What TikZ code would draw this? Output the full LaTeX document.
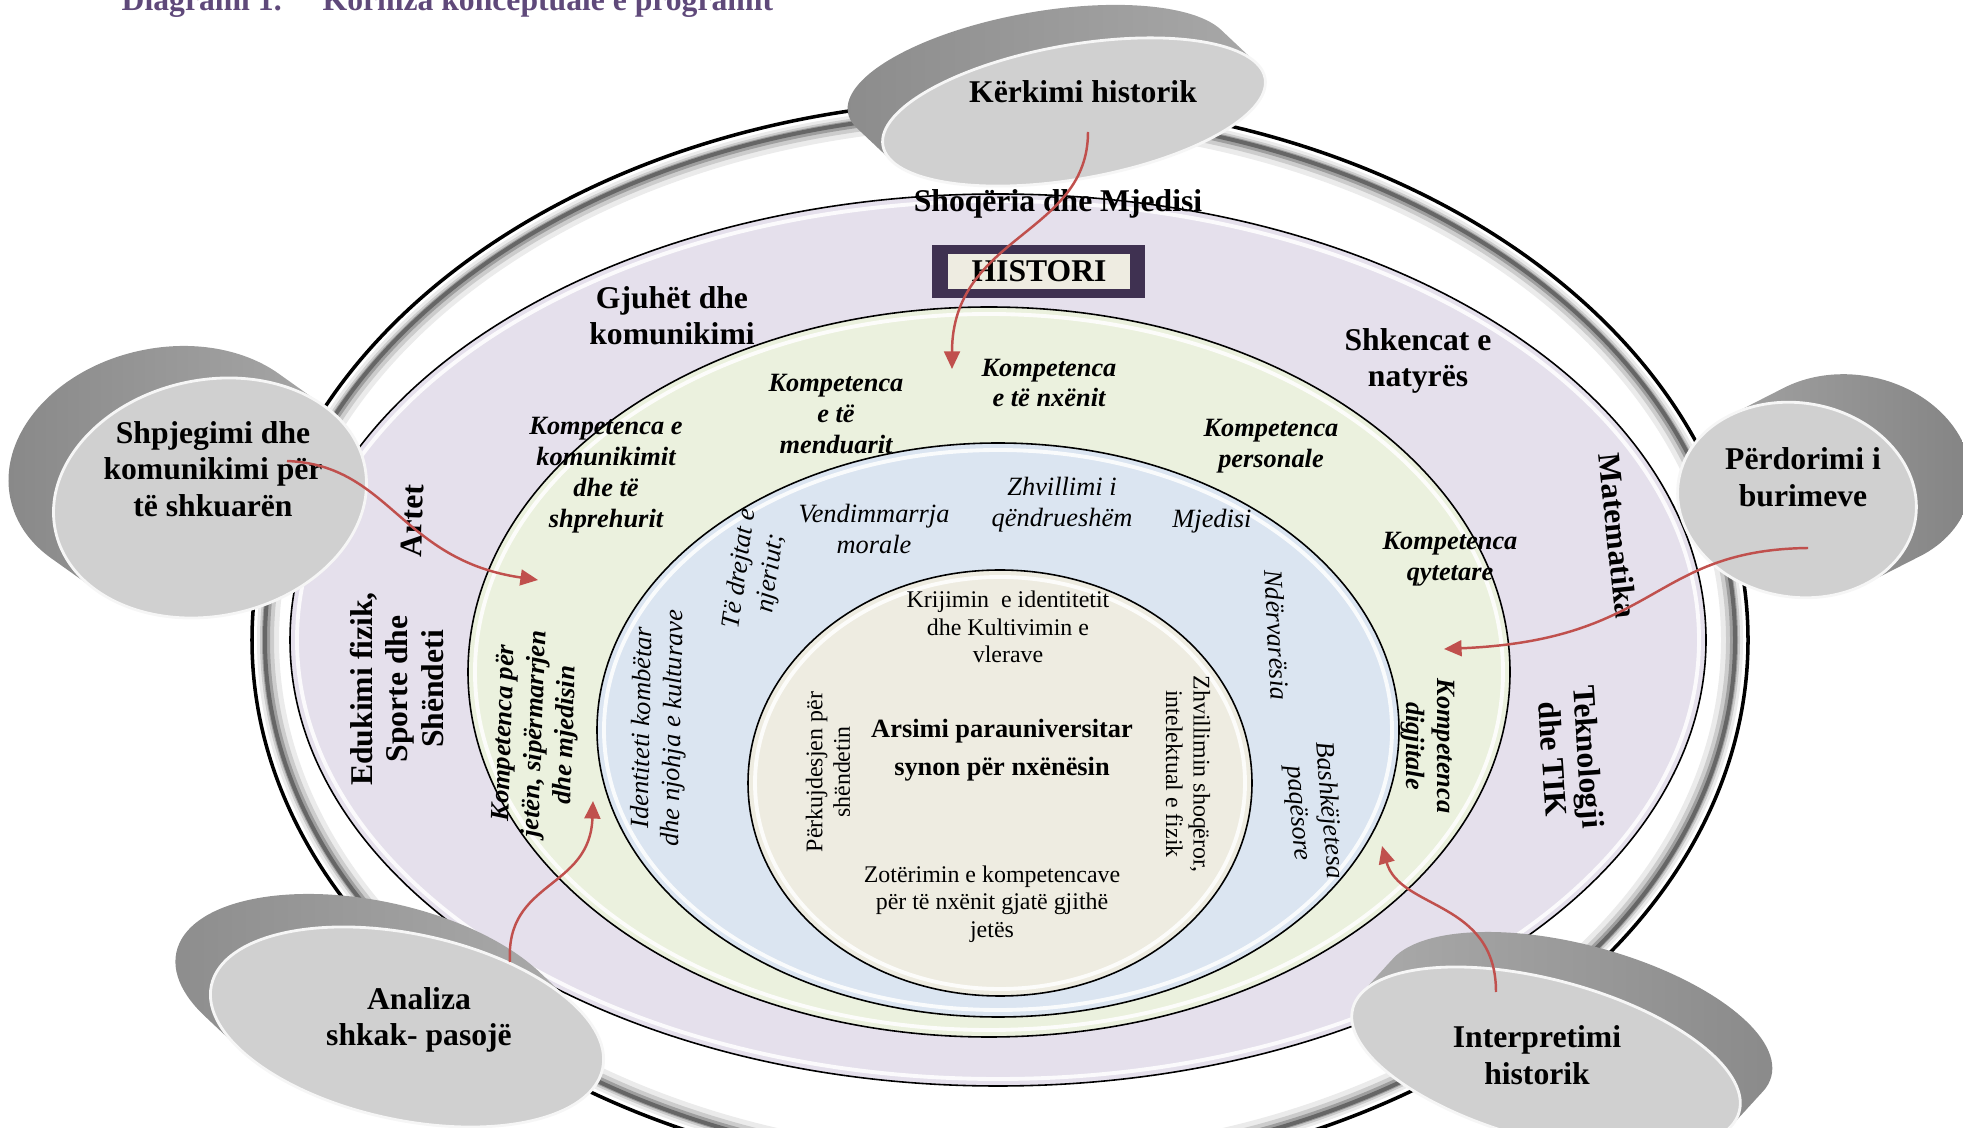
\documentclass[tikz,border=0pt]{standalone}
\usepackage{fontspec}
\setmainfont{Liberation Serif}
\usetikzlibrary{arrows.meta}

\definecolor{ringpurple}{HTML}{E5E0EC}
\definecolor{ringgreen}{HTML}{EBF1DE}
\definecolor{ringblue}{HTML}{DBE5F1}
\definecolor{corecream}{HTML}{EEECE1}
\definecolor{histframe}{HTML}{3F3151}
\definecolor{histred}{HTML}{C0504D}
\definecolor{titlepurple}{HTML}{5F497A}
\definecolor{diskface}{HTML}{D0D0D0}

\tikzset{
  ringlabel/.style={font=\fontsize{9}{10.2}\selectfont\bfseries, align=center, inner sep=0pt},
  bubbletext/.style={font=\fontsize{9}{10.4}\selectfont\bfseries, align=center, inner sep=0pt},
  compbold/.style={font=\fontsize{7.5}{8.8}\selectfont\bfseries\itshape, align=center, inner sep=0pt},
  valueit/.style={font=\fontsize{7.5}{8.8}\selectfont\itshape, align=center, inner sep=0pt},
  aimtext/.style={font=\fontsize{6.8}{7.8}\selectfont, align=center, inner sep=0pt},
  coretext/.style={font=\fontsize{7.5}{10.7}\selectfont\bfseries, align=center, inner sep=0pt},
  titletext/.style={font=\fontsize{9}{9}\selectfont\bfseries, text=titlepurple, anchor=base west, inner sep=0pt},
  histarrow/.style={draw=histred, line width=0.7pt, -{Triangle[length=5pt, width=4.5pt]}},
}

\begin{document}
\begin{tikzpicture}[x=0.01cm, y=-0.01cm]
\useasboundingbox (0,0) rectangle (1963,1128);

\node[titletext] (diagrami) at (121,11) {Diagrami 1.};
\node[titletext] (korniza) at (322,11) {Korniza konceptuale e programit};

% outer ring with its shadow
\def\ringx{1000}
\def\ringy{640}
\fill[white] (\ringx,\ringy) ellipse [x radius=748, y radius=540];
\foreach \d/\w/\g in {16/22/8, 15/14/20, 14/8/38, 13/4/60}{
  \pgfmathsetmacro\rx{748-\d}
  \pgfmathsetmacro\ry{540-\d}
  \draw[black!\g, line width=\w*0.2845pt] (\ringx,\ringy) ellipse [x radius=\rx, y radius=\ry];
}
\draw[line width=1pt] (\ringx,\ringy) ellipse [x radius=748, y radius=540];

% the four coloured ellipses
\foreach \cx/\cy/\a/\b/\col in {998/640/708/446/ringpurple, 989/672/521/365/ringgreen,
                                 998/730/401/287/ringblue, 1000/783/252/213/corecream}{
  \pgfmathsetmacro\ai{\a-7}
  \pgfmathsetmacro\bi{\b-7}
  \draw[fill=\col, line width=0.45pt] (\cx,\cy) ellipse [x radius=\a, y radius=\b];
  \draw[white, line width=1.1pt, opacity=0.85] (\cx,\cy) ellipse [x radius=\ai, y radius=\bi];
}

% subjects
\node[ringlabel] (shoqeria) at (1058,204) {Shoqëria dhe Mjedisi};
\node[ringlabel] (gjuhet) at (672,316) {Gjuhët dhe\\komunikimi};
\node[ringlabel] (shkencat) at (1418,361) {Shkencat e\\natyrës};
\node[ringlabel, rotate=-84] (matematika) at (1618,536) {Matematika};
\node[ringlabel, rotate=-86] (teknologji) at (1571,758) {Teknologji\\dhe TIK};
\node[ringlabel, rotate=90] (edukimi) at (397,689) {Edukimi fizik,\\Sporte dhe\\Shëndeti};
\node[ringlabel, rotate=88] (artet) at (412,521) {Artet};

% competences
\node[compbold] (kkomunikimit) at (606,475) {Kompetenca e\\komunikimit\\dhe të\\shprehurit};
\node[compbold] (kmenduarit) at (836,414) {Kompetenca\\e të\\menduarit};
\node[compbold] (knxenit) at (1049,383) {Kompetenca\\e të nxënit};
\node[compbold] (kpersonale) at (1271,446) {Kompetenca\\personale};
\node[compbold] (kqytetare) at (1450,559) {Kompetenca\\qytetare};
\node[compbold, rotate=-90] (kdigjitale) at (1428,746) {Kompetenca\\digjitale};
\node[compbold, rotate=88] (kjeten) at (536,734) {Kompetenca për\\jetën, sipërmarrjen\\dhe mjedisin};

% values
\node[valueit] (vendimmarrja) at (874,529) {Vendimmarrja\\morale};
\node[valueit] (zhvillimi) at (1062,505) {Zhvillimi i\\qëndrueshëm};
\node[valueit] (mjedisi) at (1212,521) {Mjedisi};
\node[valueit, rotate=82] (tedrejtat) at (756,571) {Të drejtat e\\njeriut;};
\node[valueit, rotate=-87] (ndervaresia) at (1277,635) {Ndërvarësia};
\node[valueit, rotate=-85] (bashkejetesa) at (1313,812) {Bashkëjetesa\\paqësore};
\node[valueit, rotate=89] (identiteti) at (659,728) {Identiteti kombëtar\\dhe njohja e kulturave};

% aims
\node[aimtext] (krijimin) at (1008,627) {Krijimin~ e identitetit\\dhe Kultivimin e\\vlerave};
\node[coretext] (arsimi) at (1002,750) {Arsimi parauniversitar\\synon për nxënësin};
\node[aimtext] (zoterimin) at (992,904) {Zotërimin e kompetencave\\për të nxënit gjatë gjithë\\jetës};
\node[aimtext, rotate=90] (perkujdesjen) at (828,772) {Përkujdesjen për\\shëndetin};
\node[aimtext, rotate=-90] (zhvillimin) at (1188,774) {Zhvillimin shoqëror,\\intelektual e fizik};

% subject box
\fill[histframe] (932,245) rectangle (1145,298);
\node[fill=corecream, minimum width=1.82cm, minimum height=0.35cm, ringlabel] (histori) at (1039,271.5) {HISTORI};

% grey disks: centre, radii, angle, shift of the base, side shading
\def\disk#1#2#3#4#5#6#7#8{%
  \pgfmathsetmacro\ou{(#6)*cos(#5)-(#7)*sin(#5)}%
  \pgfmathsetmacro\ov{(#6)*sin(#5)+(#7)*cos(#5)}%
  \begin{scope}[shift={(#1,#2)}, rotate=#5]
    \begin{scope}
      \clip foreach \k in {0,...,20}{({\k/20*\ou},{\k/20*\ov}) ellipse [x radius=#3, y radius=#4]};
      \shade[#8] ({-#3-100},{-#3-100}) rectangle ({#3+100},{#3+100});
    \end{scope}
    \fill[diskface] (0,0) ellipse [x radius=#3, y radius=#4];
    \draw[white!80!diskface, line width=0.8pt] (0,0) ellipse [x radius=#3, y radius=#4];
  \end{scope}}

\disk{1074}{112}{194}{67}{10}{-35}{-33}{left color=black!48, right color=black!30}
\disk{210}{498}{158}{118}{12}{-45}{-32}{left color=black!50, right color=black!28}
\disk{1797}{500}{120}{97}{-10}{55}{-28}{left color=black!28, right color=black!52}
\disk{407}{1027}{200}{93}{-12}{-35}{-33}{left color=black!48, right color=black!28}
\disk{1546}{1060}{200}{80}{-15}{32}{-35}{left color=black!28, right color=black!50}

\node[bubbletext] (kerkimi) at (1083,92) {Kërkimi historik};
\node[bubbletext] (shpjegimi) at (213,469) {Shpjegimi dhe\\komunikimi për\\të shkuarën};
\node[bubbletext] (perdorimi) at (1803,477) {Përdorimi i\\burimeve};
\node[bubbletext] (analiza) at (419,1020) {Analiza\\shkak- pasojë};
\node[bubbletext] (interpretimi) at (1537,1055) {Interpretimi\\historik};

% arrows from the skills into the competences
\coordinate (kerkimiout) at (1088,132);
\coordinate (kerkimiin) at (952,369);
\coordinate (shpjegimiout) at (287,461);
\coordinate (shpjegimiin) at (538,580);
\coordinate (perdorimiout) at (1808,548);
\coordinate (perdorimiin) at (1444,649);
\coordinate (analizaout) at (510,962);
\coordinate (analizain) at (593,801);
\coordinate (interpretimiout) at (1496,992);
\coordinate (interpretimiin) at (1382,846);

\draw[histarrow] (kerkimiout) .. controls (1088,235) and (952,235) .. (kerkimiin);
\draw[histarrow] (shpjegimiout) .. controls (390,465) and (400,560) .. (shpjegimiin);
\draw[histarrow] (perdorimiout) .. controls (1650,550) and (1660,640) .. (perdorimiin);
\draw[histarrow] (analizaout) .. controls (505,880) and (590,890) .. (analizain);
\draw[histarrow] (interpretimiout) .. controls (1496,900) and (1400,910) .. (interpretimiin);

\end{tikzpicture}
\end{document}
